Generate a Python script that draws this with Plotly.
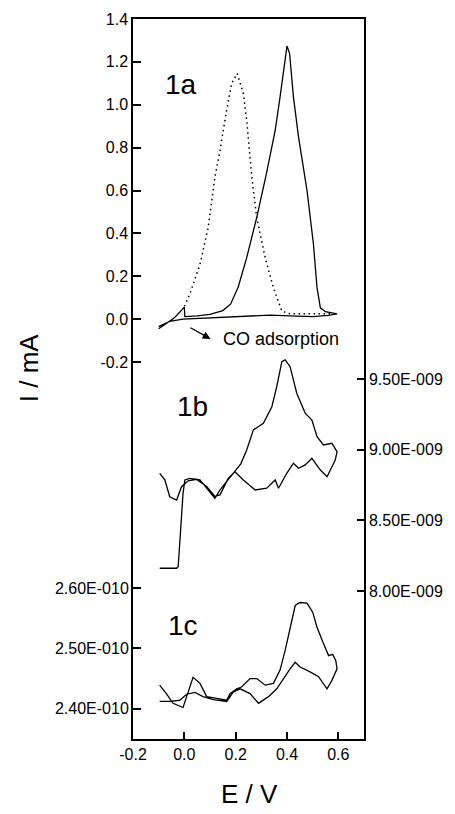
import plotly.graph_objects as go

# ---------------- data ----------------
# Panel 1a: CO stripping voltammogram, I in mA
e_1a_solid = [-0.10, -0.07, -0.04, -0.02, 0.00, 0.002, 0.05, 0.10, 0.15, 0.18, 0.21, 0.243, 0.282,
              0.32, 0.354, 0.373, 0.39, 0.40, 0.41, 0.425, 0.445, 0.478, 0.503, 0.517, 0.53, 0.55,
              0.595, 0.56, 0.50, 0.45, 0.41, 0.334, 0.256, 0.126, 0.05, -0.005, -0.057, -0.10]
i_1a_solid = [-0.045, -0.02, 0.005, 0.03, 0.056, 0.012, 0.015, 0.022, 0.04, 0.07, 0.15, 0.287, 0.474,
              0.68, 0.88, 1.037, 1.20, 1.274, 1.24, 1.037, 0.849, 0.60, 0.35, 0.147, 0.053, 0.035,
              0.025, 0.018, 0.012, 0.012, 0.015, 0.019, 0.015, 0.006, 0.003, 0.0, -0.01, -0.035]

e_1a_dot = [0.0, 0.021, 0.061, 0.093, 0.119, 0.139, 0.158, 0.184, 0.206, 0.230, 0.243, 0.263,
            0.282, 0.315, 0.347, 0.380, 0.412, 0.45, 0.50, 0.58]
i_1a_dot = [0.06, 0.116, 0.256, 0.428, 0.662, 0.787, 0.927, 1.099, 1.146, 1.052, 0.927, 0.662,
            0.474, 0.287, 0.147, 0.037, 0.025, 0.025, 0.025, 0.025]

# Panel 1b: current in units of 1E-009 (right axis)
e_1b = [-0.096, -0.06, -0.030, -0.024, -0.005, 0.002, 0.021, 0.061, 0.093, 0.119, 0.139, 0.171,
        0.197, 0.22, 0.243, 0.269, 0.308, 0.341, 0.360, 0.380, 0.393, 0.412, 0.438, 0.471, 0.497,
        0.517, 0.542, 0.575, 0.595, 0.588, 0.556, 0.53, 0.497, 0.471, 0.445, 0.425, 0.399, 0.367,
        0.354, 0.321, 0.276, 0.230, 0.197, 0.171, 0.139, 0.119, 0.087, 0.048, 0.015, -0.011,
        -0.030, -0.057, -0.076, -0.096]
i_1b = [8.161, 8.161, 8.161, 8.172, 8.691, 8.786, 8.797, 8.786, 8.715, 8.656, 8.715, 8.786,
        8.844, 8.90, 8.998, 9.14, 9.187, 9.304, 9.446, 9.623, 9.635, 9.587, 9.399, 9.258, 9.21,
        9.092, 9.033, 9.045, 8.986, 8.927, 8.809, 8.856, 8.939, 8.892, 8.868, 8.904, 8.833, 8.727,
        8.786, 8.727, 8.715, 8.786, 8.844, 8.797, 8.68, 8.67, 8.74, 8.79, 8.78, 8.738,
        8.644, 8.667, 8.786, 8.833]

# Panel 1c: current in units of 1E-010 (lower left axis)
e_1c = [-0.096, -0.07, -0.044, -0.005, 0.009, 0.034, 0.061, 0.087, 0.126, 0.165, 0.178, 0.204,
        0.223, 0.256, 0.282, 0.315, 0.347, 0.373, 0.393, 0.412, 0.432, 0.45, 0.478, 0.50, 0.517,
        0.54, 0.562, 0.578, 0.59, 0.595, 0.575, 0.556, 0.523, 0.49, 0.451, 0.432, 0.412, 0.36,
        0.328, 0.289, 0.256, 0.217, 0.191, 0.165, 0.113, 0.073, 0.041, 0.009, -0.018, -0.057, -0.096]
i_1c = [2.439, 2.425, 2.409, 2.402, 2.42, 2.452, 2.442, 2.42, 2.417, 2.414, 2.425, 2.433,
        2.436, 2.45, 2.45, 2.439, 2.442, 2.464, 2.497, 2.535, 2.571, 2.576, 2.575, 2.56, 2.535,
        2.51, 2.488, 2.49, 2.48, 2.466, 2.447, 2.433, 2.453, 2.461, 2.469, 2.477, 2.466, 2.433,
        2.42, 2.409, 2.425, 2.433, 2.428, 2.412, 2.415, 2.42, 2.427, 2.424, 2.414, 2.412, 2.412]

x_ticks = [-0.2, 0.0, 0.2, 0.4, 0.6]
x_ticktext = ["-0.2", "0.0", "0.2", "0.4", "0.6"]
x_minor = [-0.1, 0.1, 0.3, 0.5]
y1_ticks = [-0.2, 0.0, 0.2, 0.4, 0.6, 0.8, 1.0, 1.2, 1.4]
y1_ticktext = ["-0.2", "0.0", "0.2", "0.4", "0.6", "0.8", "1.0", "1.2", "1.4"]
y1_minor = [-0.1, 0.1, 0.3, 0.5, 0.7, 0.9, 1.1, 1.3]
y2_ticks = [8.0, 8.5, 9.0, 9.5]
y2_ticktext = ["8.00E-009", "8.50E-009", "9.00E-009", "9.50E-009"]
y2_minor = [8.25, 8.75, 9.25, 9.75]
y3_ticks = [2.40, 2.50, 2.60]
y3_ticktext = ["2.40E-010", "2.50E-010", "2.60E-010"]
y3_minor = [2.45, 2.55]

X_RANGE = [-0.2, 0.7]
Y1_RANGE = [-1.958, 1.4]
Y2_RANGE = [6.953, 12.047]
Y3_RANGE = [2.3498, 3.543]

FONT = "Arial"
CLEAR = "rgba(0,0,0,0)"
line_style = dict(color="black", width=1.3)

fig = go.Figure()
fig.add_trace(go.Scatter(x=e_1a_solid, y=i_1a_solid, mode="lines", line=line_style,
                         xaxis="x", yaxis="y", showlegend=False))
fig.add_trace(go.Scatter(x=e_1a_dot, y=i_1a_dot, mode="lines",
                         line=dict(color="black", width=1.5, dash="1.5px,3.5px"),
                         xaxis="x", yaxis="y", showlegend=False))
fig.add_trace(go.Scatter(x=e_1b, y=i_1b, mode="lines", line=line_style,
                         xaxis="x", yaxis="y2", showlegend=False))
fig.add_trace(go.Scatter(x=e_1c, y=i_1c, mode="lines", line=line_style,
                         xaxis="x", yaxis="y3", showlegend=False))

tickfont = dict(family=FONT, size=16, color="black")
TW = 1.5


def major(vals, text, length):
    return dict(tickmode="array", tickvals=vals, ticktext=text, ticks="inside",
                ticklen=length, tickwidth=TW, tickcolor="black", tickfont=tickfont,
                gridcolor=CLEAR, zerolinecolor=CLEAR)


def minor_axis(rng, vals, **kw):
    d = dict(range=rng, tickmode="array", tickvals=vals, ticktext=[""] * len(vals),
             ticks="inside", ticklen=4, tickwidth=TW, tickcolor="black",
             showline=True, linecolor=CLEAR, gridcolor=CLEAR, zerolinecolor=CLEAR)
    d.update(kw)
    return d


fig.update_layout(
    width=455, height=814,
    margin=dict(l=133, r=91, t=19, b=75),
    plot_bgcolor="white",
    showlegend=False,
    xaxis=dict(range=X_RANGE, showline=True, linecolor="black", linewidth=1.5, mirror=True,
               **major(x_ticks, x_ticktext, 7)),
    xaxis2=minor_axis(X_RANGE, x_minor, overlaying="x", anchor="y", side="bottom"),
    yaxis=dict(range=Y1_RANGE, showline=True, linecolor="black", linewidth=1.5,
               **major(y1_ticks, y1_ticktext, 8)),
    yaxis2=dict(range=Y2_RANGE, overlaying="y", side="right", anchor="x",
                showline=True, linecolor="black", linewidth=1.5,
                **major(y2_ticks, y2_ticktext, 7)),
    yaxis3=dict(range=Y3_RANGE, overlaying="y", side="left", anchor="x",
                showline=True, linecolor=CLEAR, **major(y3_ticks, y3_ticktext, 8)),
    yaxis4=minor_axis(Y1_RANGE, y1_minor, overlaying="y", side="left", anchor="x"),
    yaxis5=minor_axis(Y2_RANGE, y2_minor, overlaying="y", side="right", anchor="x"),
    yaxis6=minor_axis(Y3_RANGE, y3_minor, overlaying="y", side="left", anchor="x"),
)

label_font = dict(family=FONT, size=28, color="black")
annotations = [
    dict(x=-0.014, y=1.096, xref="x", yref="y", text="1a", showarrow=False, font=label_font,
         xanchor="center", yanchor="middle"),
    dict(x=0.031, y=9.302, xref="x", yref="y2", text="1b", showarrow=False, font=label_font,
         xanchor="center", yanchor="middle"),
    dict(x=-0.006, y=2.538, xref="x", yref="y3", text="1c", showarrow=False, font=label_font,
         xanchor="center", yanchor="middle"),
    dict(x=0.377, y=-0.094, xref="x", yref="y", text="CO adsorption", showarrow=False,
         font=dict(family=FONT, size=18, color="black"), xanchor="center", yanchor="middle"),
    dict(x=0.102, y=-0.092, xref="x", yref="y", ax=0.018, ay=-0.036, axref="x", ayref="y",
         text="", showarrow=True, arrowhead=2, arrowsize=1.2, arrowwidth=1.3, arrowcolor="black"),
    dict(x=-0.45, y=0.515, xref="paper", yref="paper", text="I / mA", textangle=-90,
         showarrow=False, font=dict(family=FONT, size=26, color="black"),
         xanchor="center", yanchor="middle"),
    dict(x=0.506, y=-0.076, xref="paper", yref="paper", text="E / V",
         showarrow=False, font=dict(family=FONT, size=26, color="black"),
         xanchor="center", yanchor="middle"),
]
fig.update_layout(annotations=annotations)

fig.write_html("out.html", config={"displayModeBar": False},
               post_script="document.body.style.margin='0';"
                           "document.body.style.overflow='hidden';")
